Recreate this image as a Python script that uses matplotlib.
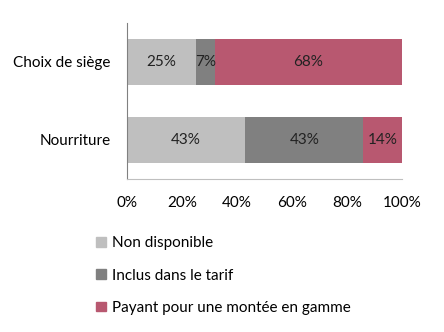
import matplotlib.pyplot as plt
from matplotlib.patches import Patch

plt.rcParams['font.family'] = ['Lato', 'DejaVu Sans']

categories = ["Nourriture", "Choix de siège"]
series = ["Non disponible", "Inclus dans le tarif", "Payant pour une montée en gamme"]
values = [
    [43, 25],
    [43, 7],
    [14, 68],
]
colors = ['#BFBFBF', '#808080', '#B85870']

fig = plt.figure(figsize=(4.44, 3.32), dpi=100)
ax = fig.add_axes([0.286, 0.461, 0.619, 0.470])

left = [0, 0]
for name, vals, c in zip(series, values, colors):
    ax.barh(range(len(categories)), vals, left=left, height=0.58, color=c, label=name)
    for i, v in enumerate(vals):
        ax.text(left[i] + v / 2, i, f"{v}%", ha='center', va='center', fontsize=11, color='#222222')
    left = [l + v for l, v in zip(left, vals)]

ax.set_xlim(0, 100)
ax.set_ylim(-0.5, 1.5)
ax.set_yticks(range(len(categories)))
ax.set_yticklabels(categories, fontsize=11)
ax.set_xticks([0, 20, 40, 60, 80, 100])
ax.set_xticklabels([f"{t}%" for t in [0, 20, 40, 60, 80, 100]], fontsize=11)
ax.tick_params(length=0)
ax.tick_params(axis='x', pad=12)
ax.tick_params(axis='y', pad=12)
for s in ['top', 'right']:
    ax.spines[s].set_visible(False)
ax.spines['left'].set_color('#808080')
ax.spines['bottom'].set_color('#BFBFBF')

handles = [Patch(color=c, label=n) for n, c in zip(series, colors)]
fig.legend(handles=handles, loc='upper left', bbox_to_anchor=(0.186, 0.33),
           frameon=False, fontsize=11, handlelength=0.6, handleheight=0.6,
           handletextpad=0.4, labelspacing=1.2)

plt.savefig('out.png', dpi=100)
